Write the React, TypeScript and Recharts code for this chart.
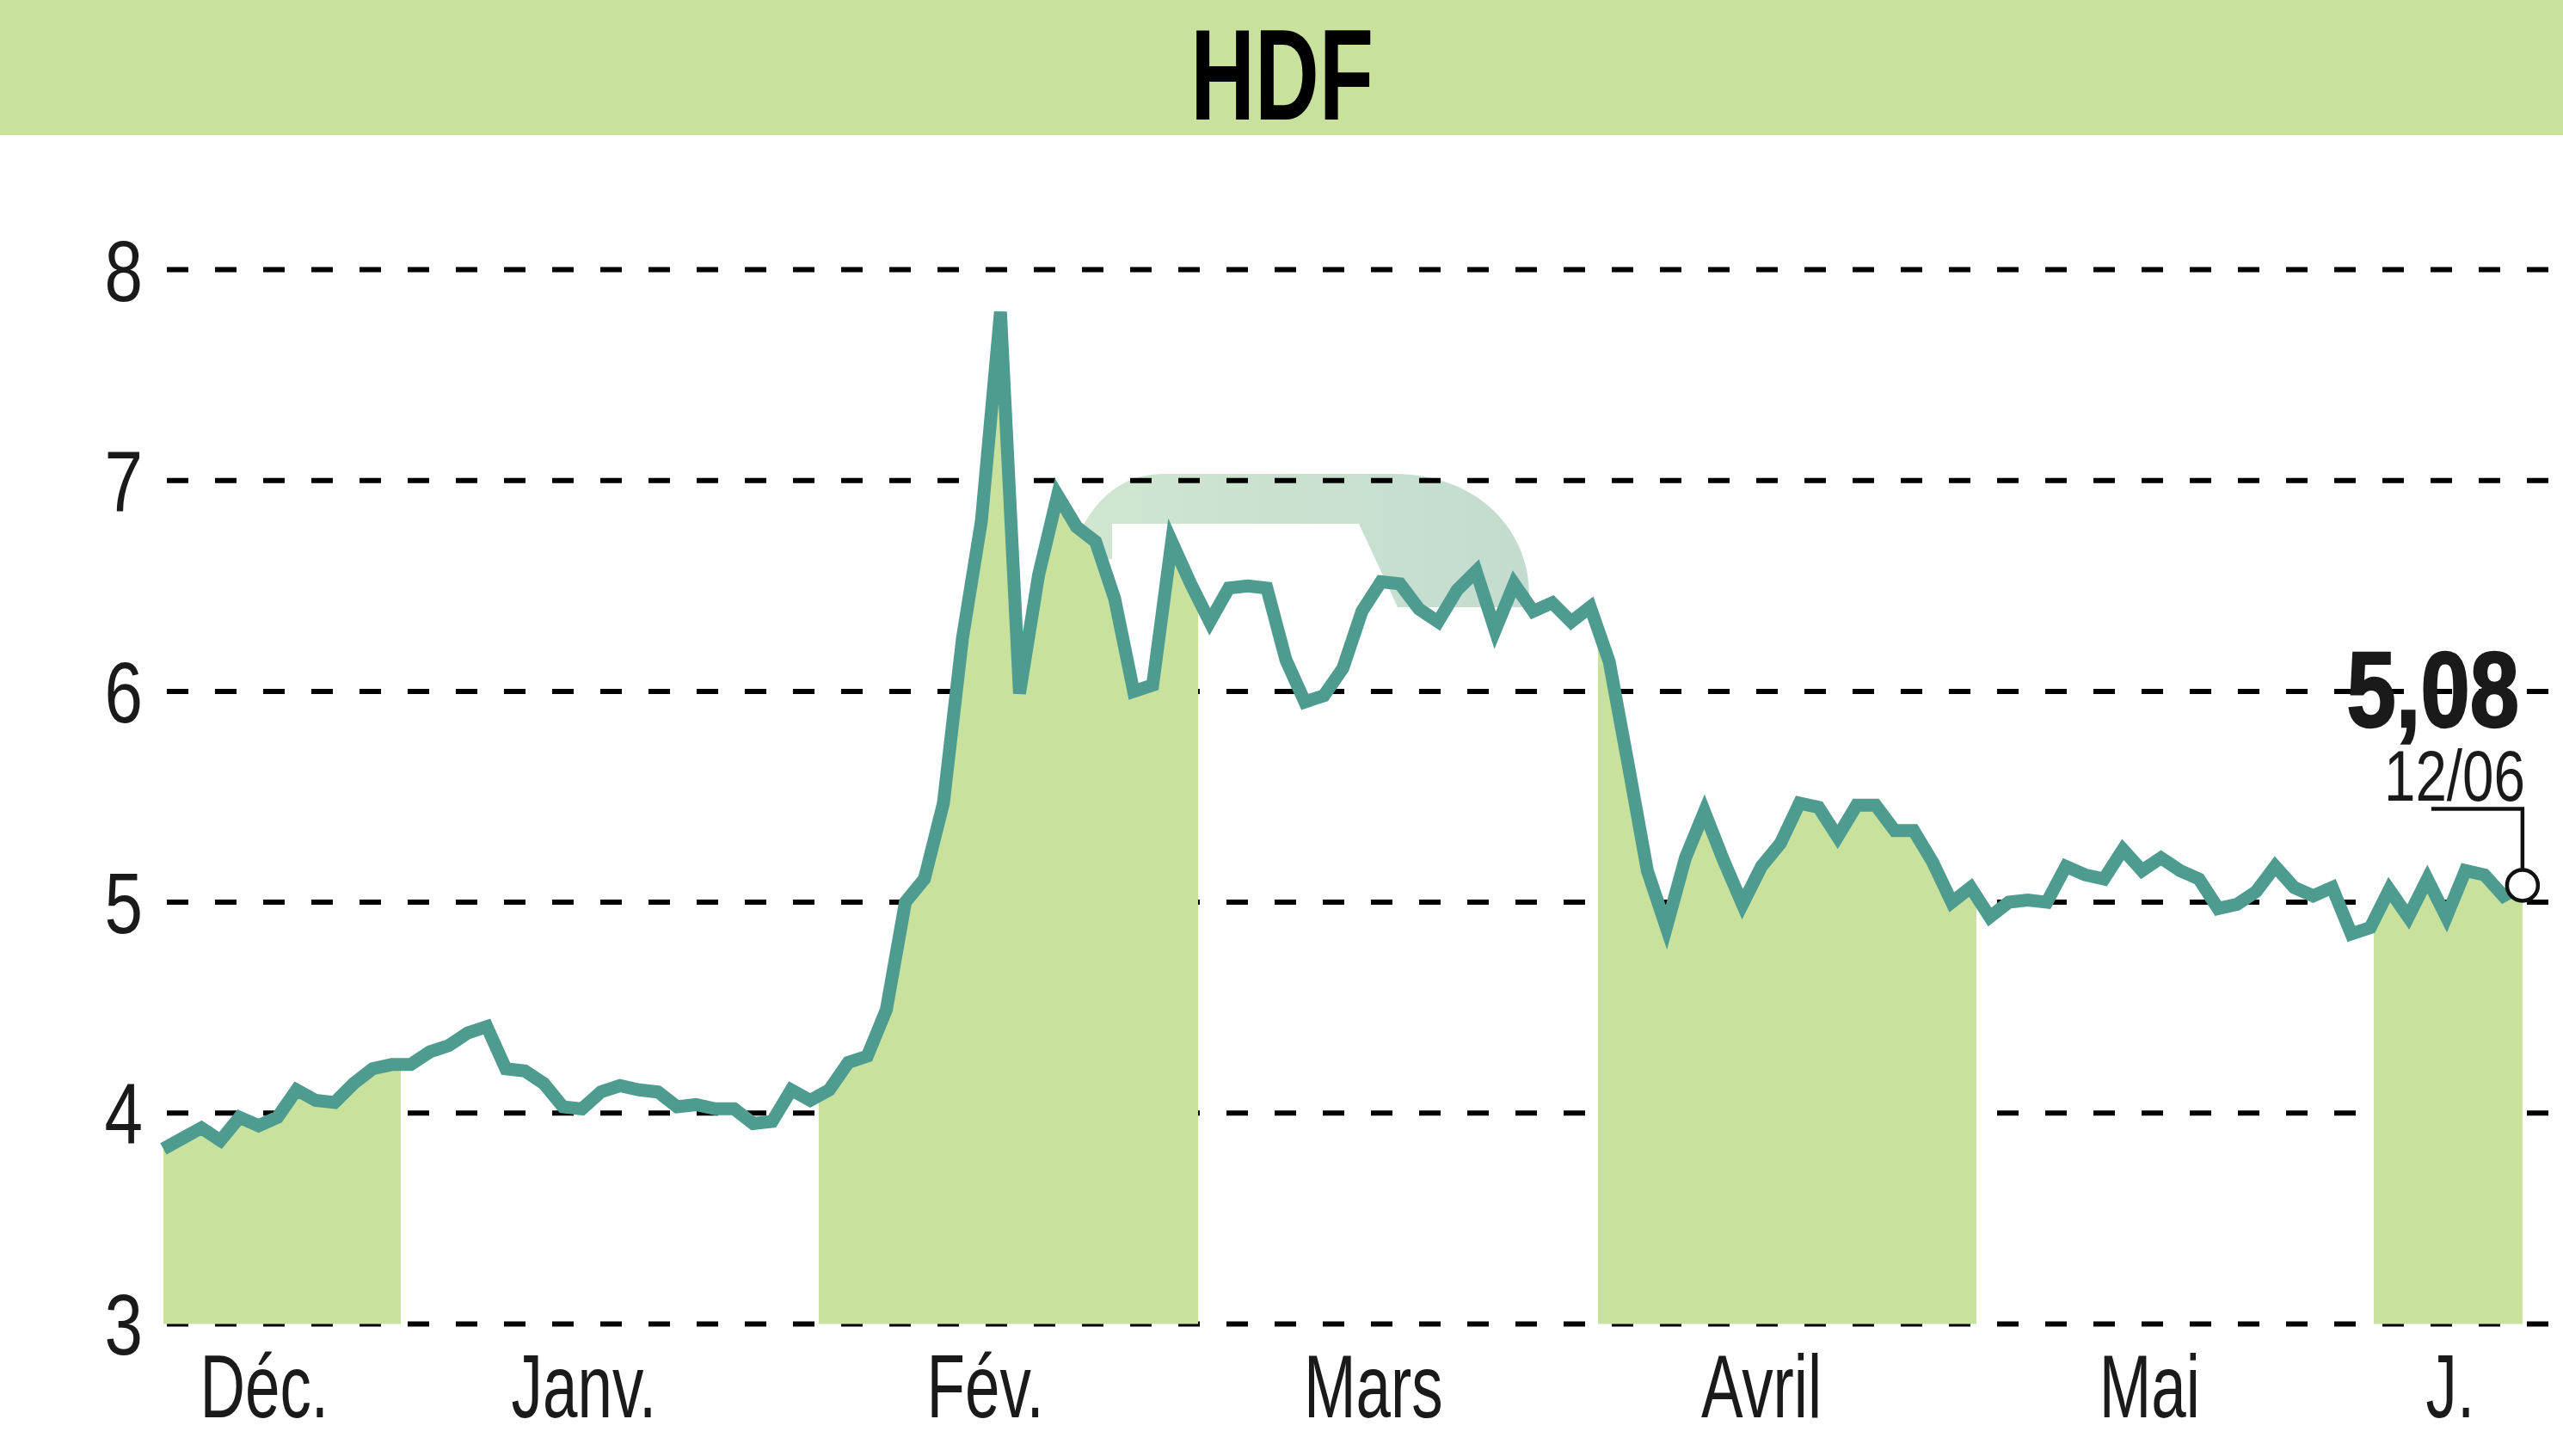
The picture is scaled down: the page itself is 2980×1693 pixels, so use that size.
import {
  ComposedChart,
  Area,
  Line,
  XAxis,
  YAxis,
  CartesianGrid,
  ReferenceDot,
} from 'recharts';

// daily closes, Dec -> 12/06
const prices = [
  3.83, 3.88, 3.93, 3.87, 3.98, 3.94, 3.98, 4.11, 4.06, 4.05, 4.14, 4.21, 4.23,
  4.23, 4.29, 4.32, 4.38, 4.41, 4.21, 4.2, 4.14, 4.03, 4.02, 4.1, 4.13, 4.11,
  4.1, 4.03, 4.04, 4.02, 4.02, 3.95, 3.96, 4.11, 4.06,
  4.11, 4.24, 4.27, 4.49, 5.0, 5.11, 5.47, 6.25, 6.81, 7.8, 5.99, 6.55, 6.93,
  6.78, 6.71, 6.44, 6.0, 6.03, 6.71, 6.51,
  6.33, 6.49, 6.5, 6.49, 6.15, 5.95, 5.98, 6.11, 6.38, 6.52, 6.51, 6.39, 6.33,
  6.48, 6.57, 6.29, 6.51, 6.38, 6.42, 6.33, 6.4,
  6.14, 5.65, 5.15, 4.88, 5.21, 5.43, 5.2, 4.99, 5.17, 5.28, 5.47, 5.45, 5.31,
  5.46, 5.46, 5.34, 5.34, 5.19, 5.0, 5.07,
  4.93, 5.0, 5.01, 5.0, 5.17, 5.13, 5.11, 5.25, 5.15, 5.21, 5.15, 5.11, 4.97,
  4.99, 5.05, 5.17, 5.07, 5.03, 5.07, 4.85, 4.88,
  5.06, 4.93, 5.11, 4.93, 5.15, 5.13, 5.03, 5.08,
];

const monthLabels = ['Déc.', 'Janv.', 'Fév.', 'Mars', 'Avril', 'Mai', 'J.'];
const monthTickPos = [5.3, 22.1, 43.2, 63.6, 84.0, 104.4, 120.2];
// shaded months (Déc, Fév, Avril, Juin) in day-index units
const shadedMonths = [
  [-0.27, 12.5],
  [34.45, 54.4],
  [75.4, 95.3],
  [116.2, 124.1],
];
const yTicks = [3, 4, 5, 6, 7, 8];
const lastDate = '12/06';

const data = prices.map((v, i) => ({ i, v }));
const lastIdx = prices.length - 1;

// no condensed face available, so squeeze Liberation Sans horizontally
const FONT = "'Liberation Sans', Arial, sans-serif";
const GREEN = '#c8e29e';
const TEAL = '#4e9b8f';
const INK = '#1a1a1a';

const bandStops = shadedMonths.flatMap(([a, b]) => {
  const s = Math.max(0, a / lastIdx);
  const e = Math.min(1, b / lastIdx);
  return [
    { off: s, op: 0 },
    { off: s, op: 1 },
    { off: e, op: 1 },
    { off: e, op: 0 },
  ];
});

const XTick = ({ x, y, payload }: any) => (
  <g transform={`translate(${x},${y + 109})`}>
    <text
      textAnchor="middle"
      transform="scale(0.7,1)"
      fontFamily={FONT}
      fontSize={104}
      fill={INK}
    >
      {monthLabels[monthTickPos.indexOf(payload.value)]}
    </text>
  </g>
);

const YTick = ({ x, y, payload }: any) => (
  <g transform={`translate(${x - 18},${y}) scale(0.8,1)`}>
    <text dy="0.36em" textAnchor="end" fontFamily={FONT} fontSize={100} fill={INK}>
      {payload.value}
    </text>
  </g>
);

const LastDot = ({ cx, cy }: any) => (
  <g>
    <polyline
      points={`${cx - 106},${cy - 89} ${cx},${cy - 89} ${cx},${cy - 18}`}
      fill="none"
      stroke="#111"
      strokeWidth={4.5}
    />
    <circle cx={cx} cy={cy} r={18} fill="#fff" stroke="#111" strokeWidth={4.5} />
    <g transform={`translate(${cx - 4},${cy - 184}) scale(0.83,1)`}>
      <text
        textAnchor="end"
        fontFamily={FONT}
        fontWeight="bold"
        fontSize={124}
        fill={INK}
        stroke={INK}
        strokeWidth={2.5}
      >
        {prices[lastIdx].toFixed(2).replace('.', ',')}
      </text>
    </g>
    <g transform={`translate(${cx + 3},${cy - 98}) scale(0.78,1)`}>
      <text textAnchor="end" fontFamily={FONT} fontSize={84} fill={INK}>
        {lastDate}
      </text>
    </g>
  </g>
);

function App() {
  return (
    <div style={{ position: 'relative', width: 2980, height: 1693, background: '#fff' }}>
      <style>{'body{margin:0}'}</style>

      {/* faded logo behind the chart */}
      <svg width={2980} height={1693} style={{ position: 'absolute', left: 0, top: 0 }}>
        <defs>
          <linearGradient id="logoFade" x1="0" y1="0" x2="1" y2="0">
            <stop offset="0" stopColor="#d0e6d0" />
            <stop offset="1" stopColor="#c3dccf" />
          </linearGradient>
        </defs>
        <path
          d="M1243 650 C1262 590 1298 551 1352 551 L1620 551 C1722 551 1778 620 1778 690 L1778 706 L1625 706 L1580 609 L1293 609 L1293 650 Z"
          fill="url(#logoFade)"
        />
      </svg>

      <div style={{ position: 'absolute', left: 0, top: 0 }}>
        <ComposedChart
          width={2980}
          height={1693}
          data={data}
          margin={{ top: 313.6, right: 0, bottom: 3.6, left: 0 }}
        >
          <defs>
            <linearGradient id="monthBands" x1="0" y1="0" x2="1" y2="0">
              {bandStops.map((s, k) => (
                <stop key={k} offset={s.off} stopColor={GREEN} stopOpacity={s.op} />
              ))}
            </linearGradient>
          </defs>
          <XAxis
            dataKey="i"
            type="number"
            domain={[-0.27, 126.13]}
            allowDataOverflow
            ticks={monthTickPos}
            tick={<XTick />}
            axisLine={false}
            tickLine={false}
            tickSize={0}
            tickMargin={0}
            height={150}
            interval={0}
          />
          <YAxis
            type="number"
            domain={[3, 8]}
            ticks={yTicks}
            tick={<YTick />}
            axisLine={false}
            tickLine={false}
            tickSize={0}
            tickMargin={0}
            width={184}
            interval={0}
          />
          <Area
            dataKey="v"
            type="linear"
            stroke="none"
            fill="url(#monthBands)"
            fillOpacity={1}
            isAnimationActive={false}
            dot={false}
            activeDot={false}
          />
          <CartesianGrid
            horizontal
            vertical={false}
            stroke="#000"
            strokeWidth={6}
            strokeDasharray="25 31"
            strokeDashoffset={46}
          />
          <Line
            dataKey="v"
            type="linear"
            stroke={TEAL}
            strokeWidth={15}
            dot={false}
            activeDot={false}
            isAnimationActive={false}
          />
          <ReferenceDot x={lastIdx} y={prices[lastIdx]} r={18} shape={<LastDot />} />
        </ComposedChart>
      </div>

      <div
        style={{
          position: 'absolute',
          left: 0,
          top: 0,
          width: 2980,
          height: 157,
          background: GREEN,
        }}
      />
      <div
        style={{
          position: 'absolute',
          left: 0,
          top: 12,
          width: 2980,
          textAlign: 'center',
          fontFamily: FONT,
          fontWeight: 'bold',
          fontSize: 150,
          lineHeight: '150px',
          color: '#000',
          transform: 'scaleX(0.69)',
          transformOrigin: '1492px 0',
        }}
      >
        HDF
      </div>
    </div>
  );
}

export default App;
